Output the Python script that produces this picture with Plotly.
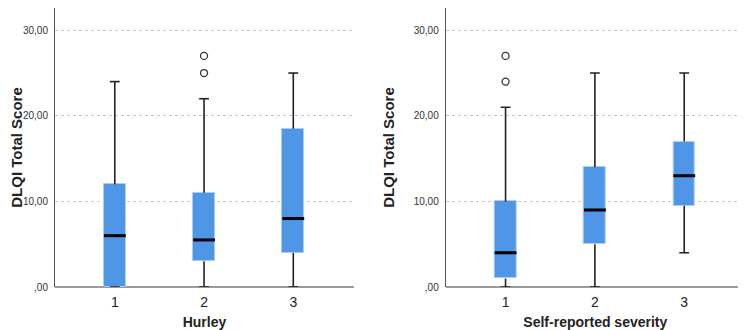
import plotly.graph_objects as go
from plotly.subplots import make_subplots

categories = [1, 2, 3]
tick_vals_y = [0, 10, 20, 30]
tick_text_y = [",00", "10,00", "20,00", "30,00"]

# Hurley panel
h_min = [0, 0, 0]
h_q1 = [0, 3, 4]
h_med = [6, 5.5, 8]
h_q3 = [12, 11, 18.5]
h_max = [24, 22, 25]
h_out_x = [2, 2]
h_out_y = [25, 27]

# Self-reported severity panel
s_min = [0, 0, 4]
s_q1 = [1, 5, 9.5]
s_med = [4, 9, 13]
s_q3 = [10, 14, 17]
s_max = [21, 25, 25]
s_out_x = [1, 1]
s_out_y = [24, 27]

BOX_W = 0.245
CAP_W = 0.11
FILL = "#5096e6"
EDGE = "#a9cdf4"

fig = make_subplots(rows=1, cols=2)


def add_panel(col, mn, q1, med, q3, mx, ox, oy):
    # boxes
    fig.add_trace(go.Bar(x=categories, base=q1, y=[b - a for a, b in zip(q1, q3)],
                         width=BOX_W, marker=dict(color=FILL, line=dict(color=EDGE, width=1)),
                         showlegend=False, hoverinfo="skip"), row=1, col=col)
    wx, wy = [], []
    for c, a, b, lo, hi in zip(categories, q1, q3, mn, mx):
        wx += [c, c, None, c, c, None]
        wy += [b, hi, None, lo, a, None]
        wx += [c - CAP_W / 2, c + CAP_W / 2, None, c - CAP_W / 2, c + CAP_W / 2, None]
        wy += [hi, hi, None, lo, lo, None]
    fig.add_trace(go.Scatter(x=wx, y=wy, mode="lines", line=dict(color="#222222", width=1.6),
                             showlegend=False, hoverinfo="skip"), row=1, col=col)
    mxs, mys = [], []
    for c, m in zip(categories, med):
        mxs += [c - BOX_W / 2, c + BOX_W / 2, None]
        mys += [m, m, None]
    fig.add_trace(go.Scatter(x=mxs, y=mys, mode="lines", line=dict(color="black", width=3),
                             showlegend=False, hoverinfo="skip"), row=1, col=col)
    fig.add_trace(go.Scatter(x=ox, y=oy, mode="markers",
                             marker=dict(symbol="circle-open", size=7, color="#333333",
                                         line=dict(width=1.3)),
                             showlegend=False, hoverinfo="skip"), row=1, col=col)


add_panel(1, h_min, h_q1, h_med, h_q3, h_max, h_out_x, h_out_y)
add_panel(2, s_min, s_q1, s_med, s_q3, s_max, s_out_x, s_out_y)

fig.update_layout(
    width=738, height=322,
    margin=dict(l=0, r=0, t=0, b=0, autoexpand=False),
    paper_bgcolor="white", plot_bgcolor="white",
    font=dict(family="Liberation Sans, Arial, sans-serif", color="#222222"),
    bargap=0,
)

xdoms = [[0.0637, 0.4688], [0.5931, 0.9986]]
xtitles = ["Hurley", "Self-reported severity"]
for i in range(2):
    xa = "xaxis" if i == 0 else "xaxis2"
    ya = "yaxis" if i == 0 else "yaxis2"
    fig.layout[xa].update(
        domain=xdoms[i], range=[0.33, 3.68], tickvals=categories, automargin=False,
        ticktext=[str(c) for c in categories], showgrid=False, zeroline=False,
        showline=False, ticks="", tickfont=dict(size=14, color="#222222"),
        ticklabelstandoff=5,
        title=dict(text="<b>" + xtitles[i] + "</b>", font=dict(size=14, color="#222222"), standoff=9),
    )
    fig.layout[ya].update(
        domain=[0.1335, 1.0], range=[0, 32.6], tickvals=tick_vals_y, ticktext=tick_text_y,
        automargin=False,
        showgrid=True, gridcolor="#c8c8c8", griddash="dot", gridwidth=1,
        zeroline=True, zerolinecolor="#9a9a9a", zerolinewidth=2,
        showline=True, linecolor="#555555", linewidth=1, mirror=False,
        ticks="", tickfont=dict(size=10, color="#333333"), ticklabelstandoff=4,
        title=dict(text="<b>DLQI Total Score</b>", font=dict(size=15, color="#222222"), standoff=15),
    )

fig.write_html("out.html")
